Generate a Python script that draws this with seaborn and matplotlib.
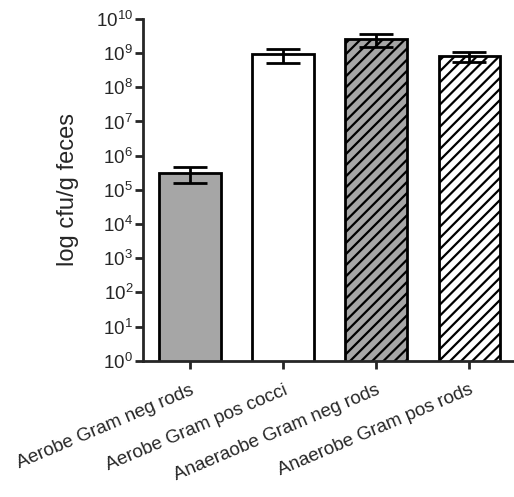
import matplotlib
matplotlib.use('Agg')
import matplotlib.pyplot as plt
import matplotlib.ticker as mticker
import seaborn as sns
import numpy as np

categories = ['Aerobe Gram neg rods', 'Aerobe Gram pos cocci',
              'Anaeraobe Gram neg rods', 'Anaerobe Gram pos rods']
means = [3.1e5, 9.2e8, 2.5e9, 8.2e8]
sems = [1.55e5, 4.0e8, 1.0e9, 2.8e8]
fills = ['#a6a6a6', 'white', '#a6a6a6', 'white']
hatches = ['', '', '///', '///']

sns.set_style('ticks')
plt.rcParams['font.family'] = ['Liberation Sans', 'DejaVu Sans']
plt.rcParams['hatch.linewidth'] = 1.6

fig = plt.figure(figsize=(5.14, 4.97), dpi=100)
ax = fig.add_axes([0.278, 0.274, 0.722, 0.688])

sns.barplot(x=categories, y=means, ax=ax, width=0.66, errorbar=None,
            palette=fills, hue=categories, legend=False,
            edgecolor='black', linewidth=2)
for patch, h in zip(ax.patches, hatches):
    patch.set_hatch(h)

ax.errorbar(np.arange(len(means)), means, yerr=sems, fmt='none',
            ecolor='black', elinewidth=2, capsize=12, capthick=2, zorder=5)

ax.set_yscale('log')
ax.set_ylim(1, 1e10)
ax.set_xlim(-0.505, 3.48)
ax.yaxis.set_major_locator(mticker.LogLocator(base=10, numticks=15))
ax.yaxis.set_minor_locator(mticker.NullLocator())
ax.yaxis.set_major_formatter(mticker.FuncFormatter(
    lambda v, p: r'$\mathregular{10^{%d}}$' % round(np.log10(v))))

ax.set_ylabel('log cfu/g feces', fontsize=17, labelpad=12)
ax.set_xlabel('')
ax.tick_params(axis='both', direction='out', length=6, width=2, labelsize=13.5)
ax.tick_params(axis='x', pad=9)
ax.tick_params(axis='y', pad=1)
plt.setp(ax.get_xticklabels(), rotation=23, ha='right', rotation_mode='anchor')

sns.despine(ax=ax)
for s in ['left', 'bottom']:
    ax.spines[s].set_linewidth(2)

fig.savefig('out.png', dpi=100)
